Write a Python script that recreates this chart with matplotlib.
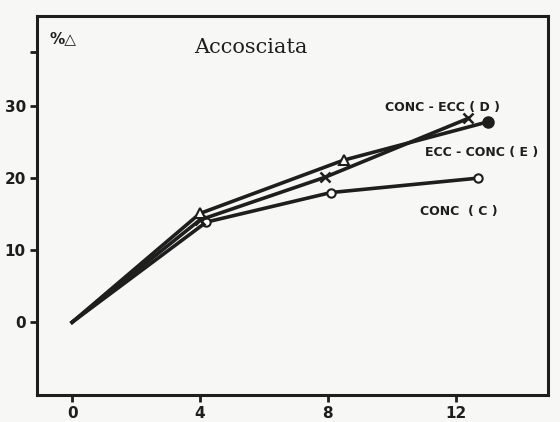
import matplotlib.pyplot as plt

# valori (carico %, variazione %)
x_c = [0, 4.2, 8.1, 12.7]
y_c = [0, 13.9, 18.0, 20.0]
x_d = [0, 4.0, 7.9, 12.4]
y_d = [0, 14.2, 20.1, 28.3]
x_e = [0, 4.0, 8.5, 13.0]
y_e = [0, 15.1, 22.5, 27.8]
xticks = [0, 4, 8, 12]
yticks = [0, 10, 20, 30]

ink = '#1e1e1e'
fig = plt.figure(figsize=(5.6, 4.22), dpi=100)
fig.patch.set_facecolor('#f7f7f5')
ax = fig.add_axes([0.066, 0.064, 0.913, 0.898])
ax.set_facecolor('#f7f7f5')

ax.plot(x_c, y_c, color=ink, lw=2.6, marker='o', ms=6, mfc='white', mec=ink, mew=1.5, markevery=[1, 2, 3])
ax.plot(x_d, y_d, color=ink, lw=2.6, marker='x', ms=7, mec=ink, mew=1.8, markevery=[1, 2, 3])
ax.plot(x_e, y_e, color=ink, lw=2.6, marker='^', ms=7, mfc='white', mec=ink, mew=1.5, markevery=[1, 2])
ax.plot(x_e[-1:], y_e[-1:], 'o', color=ink, ms=8)

ax.set_xlim(-1.1, 14.9)
ax.set_ylim(-10.1, 42.5)
ax.set_xticks(xticks)
ax.set_yticks(yticks + [37.5])
ax.set_yticklabels([str(v) for v in yticks] + [''])
ax.tick_params(direction='out', length=5, width=2, colors=ink, labelsize=11, pad=3)
for lab in ax.get_xticklabels() + ax.get_yticklabels():
    lab.set_fontweight('bold')
for s in ax.spines.values():
    s.set_linewidth(2.2)
    s.set_color(ink)

ax.text(5.6, 38.2, 'Accosciata', family='DejaVu Serif', fontsize=15, ha='center', va='center', color=ink)
ax.text(0.025, 0.94, '%\u25b3', transform=ax.transAxes, fontsize=11, fontweight='bold', color=ink, va='center')
ax.text(11.6, 29.8, 'CONC - ECC ( D )', fontsize=9, fontweight='bold', ha='center', va='center', color=ink)
ax.text(12.8, 23.6, 'ECC - CONC ( E )', fontsize=9, fontweight='bold', ha='center', va='center', color=ink)
ax.text(12.1, 15.3, 'CONC  ( C )', fontsize=9, fontweight='bold', ha='center', va='center', color=ink)

fig.savefig('out.png', dpi=100, facecolor=fig.get_facecolor())
